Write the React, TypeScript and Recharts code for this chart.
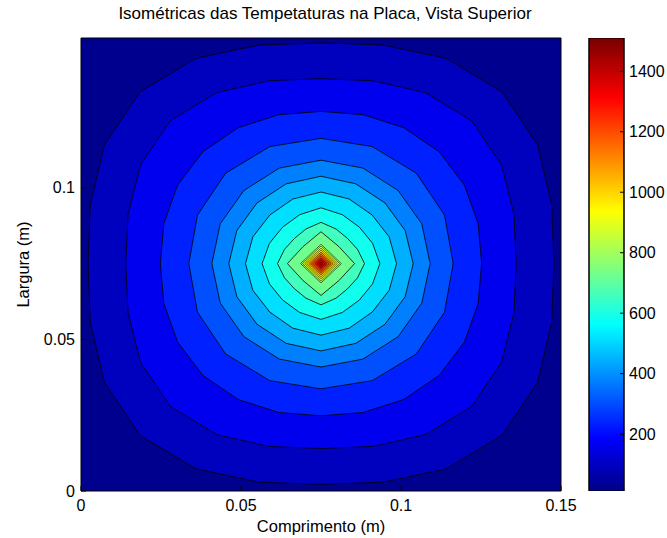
import { ScatterChart, Scatter, XAxis, YAxis, CartesianGrid, Curve, BarChart, Bar } from 'recharts';

const xTicks = [0, 0.05, 0.1, 0.15];
const yTicks = [0, 0.05, 0.1];
const colorTicks = [200, 400, 600, 800, 1000, 1200, 1400];
const tempLimits = [12, 1510];
const plateX = [0, 0.15];
const plateY = [0, 0.1494];

// isotherms, outermost first: [x, y] vertices in metres
const iso1 = [
  [0.1478, 0.075], [0.1471, 0.0943], [0.1427, 0.1141], [0.1316, 0.1316], [0.1141, 0.1427], [0.0943, 0.1471],
  [0.075, 0.1478], [0.0557, 0.1471], [0.0359, 0.1427], [0.0184, 0.1316], [0.0073, 0.1141], [0.0029, 0.0943],
  [0.0022, 0.075], [0.0029, 0.0557], [0.0073, 0.0359], [0.0184, 0.0184], [0.0359, 0.0073], [0.0557, 0.0029],
  [0.075, 0.0022], [0.0943, 0.0029], [0.1141, 0.0073], [0.1316, 0.0184], [0.1427, 0.0359], [0.1471, 0.0557],
];
const iso2 = [
  [0.136, 0.075], [0.1353, 0.0912], [0.1314, 0.1076], [0.1221, 0.1221], [0.1076, 0.1314], [0.0912, 0.1353],
  [0.075, 0.136], [0.0588, 0.1353], [0.0424, 0.1314], [0.0279, 0.1221], [0.0186, 0.1076], [0.0147, 0.0912],
  [0.014, 0.075], [0.0147, 0.0588], [0.0186, 0.0424], [0.0279, 0.0279], [0.0424, 0.0186], [0.0588, 0.0147],
  [0.075, 0.014], [0.0912, 0.0147], [0.1076, 0.0186], [0.1221, 0.0279], [0.1314, 0.0424], [0.1353, 0.0588],
];
const iso3 = [
  [0.1252, 0.075], [0.1241, 0.0882], [0.1198, 0.1009], [0.1119, 0.1119], [0.1009, 0.1198], [0.0882, 0.1241],
  [0.075, 0.1252], [0.0618, 0.1241], [0.0491, 0.1198], [0.0381, 0.1119], [0.0302, 0.1009], [0.0259, 0.0882],
  [0.0248, 0.075], [0.0259, 0.0618], [0.0302, 0.0491], [0.0381, 0.0381], [0.0491, 0.0302], [0.0618, 0.0259],
  [0.075, 0.0248], [0.0882, 0.0259], [0.1009, 0.0302], [0.1119, 0.0381], [0.1198, 0.0491], [0.1241, 0.0618],
];
const iso4 = [
  [0.1163, 0.075], [0.1136, 0.091], [0.1048, 0.1048], [0.091, 0.1136], [0.075, 0.1163], [0.059, 0.1136],
  [0.0452, 0.1048], [0.0364, 0.091], [0.0337, 0.075], [0.0364, 0.059], [0.0452, 0.0452], [0.059, 0.0364],
  [0.075, 0.0337], [0.091, 0.0364], [0.1048, 0.0452], [0.1136, 0.059],
];
const iso5 = [
  [0.1091, 0.075], [0.1065, 0.0881], [0.0991, 0.0991], [0.0881, 0.1065], [0.075, 0.1091], [0.062, 0.1065],
  [0.0509, 0.0991], [0.0435, 0.0881], [0.0409, 0.075], [0.0435, 0.062], [0.0509, 0.0509], [0.062, 0.0435],
  [0.075, 0.0409], [0.0881, 0.0435], [0.0991, 0.0509], [0.1065, 0.062],
];
const iso6 = [
  [0.1038, 0.075], [0.1013, 0.0859], [0.095, 0.095], [0.0859, 0.1013], [0.075, 0.1038], [0.0641, 0.1013],
  [0.055, 0.095], [0.0487, 0.0859], [0.0462, 0.075], [0.0487, 0.0641], [0.055, 0.055], [0.0641, 0.0487],
  [0.075, 0.0462], [0.0859, 0.0487], [0.095, 0.055], [0.1013, 0.0641],
];
const iso7 = [
  [0.0986, 0.075], [0.0963, 0.0838], [0.091, 0.091], [0.0838, 0.0963], [0.075, 0.0986], [0.0662, 0.0963],
  [0.059, 0.091], [0.0537, 0.0838], [0.0514, 0.075], [0.0537, 0.0662], [0.059, 0.059], [0.0662, 0.0537],
  [0.075, 0.0514], [0.0838, 0.0537], [0.091, 0.059], [0.0963, 0.0662],
];
const iso8 = [
  [0.0934, 0.075], [0.0911, 0.0817], [0.087, 0.087], [0.0817, 0.0911], [0.075, 0.0934], [0.0683, 0.0911],
  [0.063, 0.087], [0.0589, 0.0817], [0.0566, 0.075], [0.0589, 0.0683], [0.063, 0.063], [0.0683, 0.0589],
  [0.075, 0.0566], [0.0817, 0.0589], [0.087, 0.063], [0.0911, 0.0683],
];
const iso9 = [
  [0.0886, 0.075], [0.0864, 0.0797], [0.0833, 0.0833], [0.0797, 0.0864], [0.075, 0.0886], [0.0703, 0.0864],
  [0.0667, 0.0833], [0.0636, 0.0797], [0.0614, 0.075], [0.0636, 0.0703], [0.0667, 0.0667], [0.0703, 0.0636],
  [0.075, 0.0614], [0.0797, 0.0636], [0.0833, 0.0667], [0.0864, 0.0703],
];
const iso10 = [
  [0.0855, 0.075], [0.0806, 0.0806], [0.075, 0.0855], [0.0694, 0.0806],
  [0.0645, 0.075], [0.0694, 0.0694], [0.075, 0.0645], [0.0806, 0.0694],
];
const iso11 = [[0.0814, 0.075], [0.075, 0.0814], [0.0686, 0.075], [0.075, 0.0686]];
const iso12 = [[0.0808, 0.075], [0.075, 0.0808], [0.0692, 0.075], [0.075, 0.0692]];
const iso13 = [[0.0801, 0.075], [0.075, 0.0801], [0.0699, 0.075], [0.075, 0.0699]];
const iso14 = [[0.0795, 0.075], [0.075, 0.0795], [0.0705, 0.075], [0.075, 0.0705]];
const iso15 = [[0.0788, 0.075], [0.075, 0.0788], [0.0712, 0.075], [0.075, 0.0712]];
const iso16 = [[0.0782, 0.075], [0.075, 0.0782], [0.0718, 0.075], [0.075, 0.0718]];
const iso17 = [[0.0776, 0.075], [0.075, 0.0776], [0.0724, 0.075], [0.075, 0.0724]];
const iso18 = [[0.0769, 0.075], [0.075, 0.0769], [0.0731, 0.075], [0.075, 0.0731]];
const iso19 = [[0.0763, 0.075], [0.075, 0.0763], [0.0737, 0.075], [0.075, 0.0737]];
const iso20 = [[0.0756, 0.075], [0.075, 0.0756], [0.0744, 0.075], [0.075, 0.0744]];

const isotherms = [iso1, iso2, iso3, iso4, iso5, iso6, iso7, iso8, iso9, iso10,
  iso11, iso12, iso13, iso14, iso15, iso16, iso17, iso18, iso19, iso20];

// jet colour of each band, from 79 C up to 1447 C
const bandColors = ['#0000BF', '#0000EF', '#0020FF', '#0050FF', '#0080FF', '#00AFFF', '#00DFFF', '#10FFEF',
  '#40FFBF', '#70FF8F', '#9FFF60', '#CFFF30', '#FFFF00', '#FFCF00', '#FF9F00', '#FF7000', '#FF4000',
  '#FF1000', '#DF0000', '#9F0000'];
const coldColor = '#00008F';

const jetStops = [
  { offset: '0.8%', color: '#00008F' },
  { offset: '11.7%', color: '#0000FF' },
  { offset: '36.7%', color: '#00FFFF' },
  { offset: '61.7%', color: '#FFFF00' },
  { offset: '86.7%', color: '#FF0000' },
  { offset: '99.2%', color: '#800000' },
];

const colorbarData = [{ name: 'T', span: tempLimits }];

const font = 'Arial, "Liberation Sans", Helvetica, sans-serif';
const tickStyle = { fill: '#000', fontSize: 16 };

const noMarker = () => <g />;
// the tight diamonds round the peak get a thinner outline so their colours still show
const band = (color: string, width: number) => (p: any) => (
  <Curve points={p.points} type="linearClosed" fill={color} stroke="#000" strokeWidth={width} />
);

export default function App() {
  return (
    <div style={{ position: 'absolute', left: 0, top: 0, width: 667, height: 538, background: '#fff', fontFamily: font }}>
      <div style={{ position: 'absolute', left: 0, top: 0 }}>
        <ScatterChart width={582} height={538} margin={{ top: 37, right: 20, bottom: 0, left: 0 }}>
          <CartesianGrid horizontal={false} vertical={false} fill={coldColor} fillOpacity={1} />
          <XAxis dataKey="x" type="number" domain={plateX} ticks={xTicks} allowDataOverflow
            height={47} stroke="#000" tickSize={-5} tickMargin={14} tick={tickStyle} />
          <XAxis xAxisId="top" orientation="top" type="number" domain={plateX} ticks={xTicks} allowDataOverflow
            height={1} stroke="#000" tickSize={-5} tick={false} />
          <YAxis dataKey="y" type="number" domain={plateY} ticks={yTicks} allowDataOverflow
            width={81} stroke="#000" tickSize={-5} tickMargin={11} tick={tickStyle} />
          <YAxis yAxisId="right" orientation="right" type="number" domain={plateY} ticks={yTicks} allowDataOverflow
            width={1} stroke="#000" tickSize={-5} tick={false} />
          {isotherms.map((pts, i) => (
            <Scatter
              key={i}
              data={pts.map(([x, y]) => ({ x, y }))}
              isAnimationActive={false}
              shape={noMarker}
              line={band(bandColors[i], i >= 10 ? 0.55 : 0.8)}
            />
          ))}
          <text x={325} y={19} textAnchor="middle" fontSize={17} fill="#000">
            Isométricas das Tempetaturas na Placa, Vista Superior
          </text>
          <text x={321} y={532} textAnchor="middle" fontSize={16.5} fill="#000">
            Comprimento (m)
          </text>
          <text x={29} y={264.5} textAnchor="middle" fontSize={16.5} fill="#000" transform="rotate(-90 29 264.5)">
            Largura (m)
          </text>
        </ScatterChart>
      </div>
      <div style={{ position: 'absolute', left: 588, top: 0 }}>
        <BarChart width={79} height={538} data={colorbarData} barCategoryGap={0}
          margin={{ top: 38, right: 0, bottom: 47, left: 0 }}>
          <defs>
            <linearGradient id="jet" x1="0" y1="1" x2="0" y2="0">
              {jetStops.map((s) => (
                <stop key={s.offset} offset={s.offset} stopColor={s.color} />
              ))}
            </linearGradient>
          </defs>
          <XAxis dataKey="name" hide />
          <YAxis yAxisId="cbl" type="number" domain={tempLimits} ticks={colorTicks} allowDataOverflow
            width={1} stroke="#000" tickSize={-4} tick={false} />
          <YAxis yAxisId="cb" orientation="right" type="number" domain={tempLimits} ticks={colorTicks} allowDataOverflow
            width={43} stroke="#000" tickSize={-4} tickMargin={9} tick={tickStyle} />
          <Bar yAxisId="cb" dataKey="span" fill="url(#jet)" stroke="#000" strokeWidth={1} isAnimationActive={false} />
        </BarChart>
      </div>
    </div>
  );
}
